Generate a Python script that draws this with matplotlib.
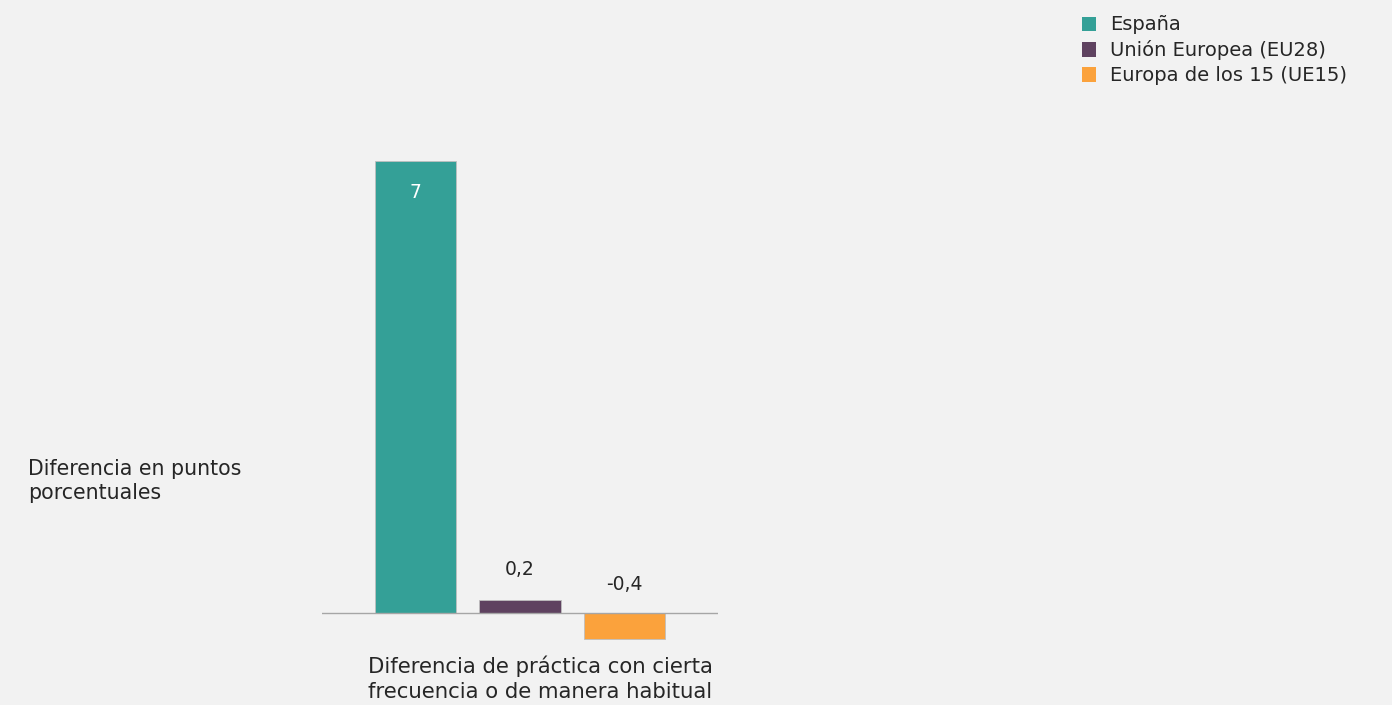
import numpy as np
import matplotlib.pyplot as plt

# datos
series = ['España', 'Unión Europea (EU28)', 'Europa de los 15 (UE15)']
valores = [7, 0.2, -0.4]
etiquetas = ['7', '0,2', '-0,4']
colores = ['#34A097', '#5F4260', '#FBA23C']
categoria = 'Diferencia de práctica con cierta\nfrecuencia o de manera habitual'
eje_y = 'Diferencia en puntos\nporcentuales'

plt.rcParams['font.family'] = ['DejaVu Sans']

fig = plt.figure(figsize=(13.92, 7.05), dpi=100)
fig.patch.set_facecolor('#F2F2F2')
ax = fig.add_axes([0.2313, 0.0755, 0.2845, 0.7148])
ax.set_facecolor('#F2F2F2')

x = np.arange(len(valores)) - 1
bars = ax.bar(x, valores, width=0.78, color=colores, edgecolor='#BFBFBF',
              linewidth=0.6, label=series, zorder=2)

ax.set_xlim(-1.9, 1.9)
ax.set_ylim(-0.6, 7.2)
ax.axhline(0, color='#A6A6A6', linewidth=1, zorder=3)
for s in ax.spines.values():
    s.set_visible(False)
ax.set_xticks([])
ax.set_yticks([])

# etiquetas de valor
for b, v, t in zip(bars, valores, etiquetas):
    cx = b.get_x() + b.get_width() / 2
    if v > 1:
        ax.annotate(t, (cx, v), xytext=(0, -30), textcoords='offset points',
                    ha='center', va='bottom', fontsize=13.5, color='white')
    else:
        ax.annotate(t, (cx, max(v, 0)), xytext=(0, 15 if v > 0 else 14),
                    textcoords='offset points', ha='center', va='bottom',
                    fontsize=13.5, color='#262626')

fig.text(540 / 1392, 1 - 679 / 705, categoria, ha='center', va='center',
         fontsize=15.3, color='#262626', linespacing=1.3)
fig.text(28 / 1392, 1 - 481 / 705, eje_y, ha='left', va='center',
         fontsize=14.8, color='#262626', linespacing=1.25)

leg = fig.legend(handles=bars, labels=series, loc='upper left',
                 bbox_to_anchor=(1064 / 1392, 1 - (-2) / 705), frameon=False,
                 fontsize=14, handlelength=0.75, handleheight=0.75,
                 handletextpad=0.7, labelspacing=0.3, labelcolor='#262626')
for h in leg.legend_handles:
    h.set_edgecolor('none')

fig.savefig('out.png', dpi=100, facecolor=fig.get_facecolor())
